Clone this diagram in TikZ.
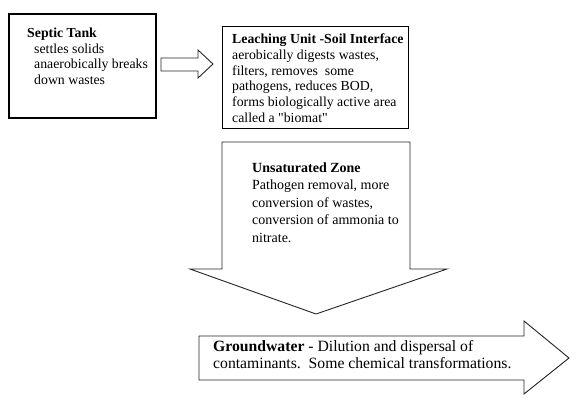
\documentclass[tikz,border=0pt]{standalone}
\usepackage{fontspec}
\setmainfont{Liberation Serif}
\usetikzlibrary{positioning}
\begin{document}
\begin{tikzpicture}[x=1pt,y=-1pt,line join=miter]
\path[fill=white] (0,0) rectangle (577,400);
\tikzset{box/.style={draw=black,line width=1.1pt,inner sep=0pt,anchor=north west},blockarrow/.style={draw=black!85,line width=0.9pt,fill=white},txt/.style={anchor=north west,inner sep=0pt,align=left,font=\fontsize{13.8}{15.8}\selectfont}}
% stages
\node[box,line width=2pt,minimum width=147pt,minimum height=104pt] (septic) at (8,13) {};
\node[box,minimum width=186pt,minimum height=102pt] (leach) at (222,26) {};
% block arrows
\draw[blockarrow] (161,58) -- (198,58) -- (198,50) -- (213,64) -- (198,78) -- (198,71) -- (161,71) -- cycle;
\draw[blockarrow] (222,142) -- (410,142) -- (410,269) -- (447,269) -- (316,314) -- (190,269) -- (222,269) -- cycle;
\draw[blockarrow] (199,336) -- (524,336) -- (524,321) -- (569,358) -- (524,394) -- (524,380) -- (199,380) -- cycle;
% texts
\node[txt] (septictext) at (27,27.6) {\textbf{Septic Tank}\\\hspace*{7pt}settles solids\\\hspace*{7pt}anaerobically breaks\\\hspace*{7pt}down wastes};
\node[txt] (leachtext) at (232,33.6) {\textbf{Leaching Unit -Soil Interface}\\aerobically digests wastes,\\filters, removes\ \ some\\pathogens, reduces BOD,\\forms biologically active area\\called a \textquotedbl biomat\textquotedbl};
\node[txt,font=\fontsize{14}{17.5}\selectfont] (zonetext) at (252,162.4) {\textbf{Unsaturated Zone}\\Pathogen removal, more\\conversion of wastes,\\conversion of ammonia to\\nitrate.};
\node[txt,font=\fontsize{15.7}{17}\selectfont] (groundtext) at (213,340.2) {\textbf{Groundwater} - Dilution and dispersal of\\contaminants.\ \ Some chemical transformations.};
\end{tikzpicture}
\end{document}
